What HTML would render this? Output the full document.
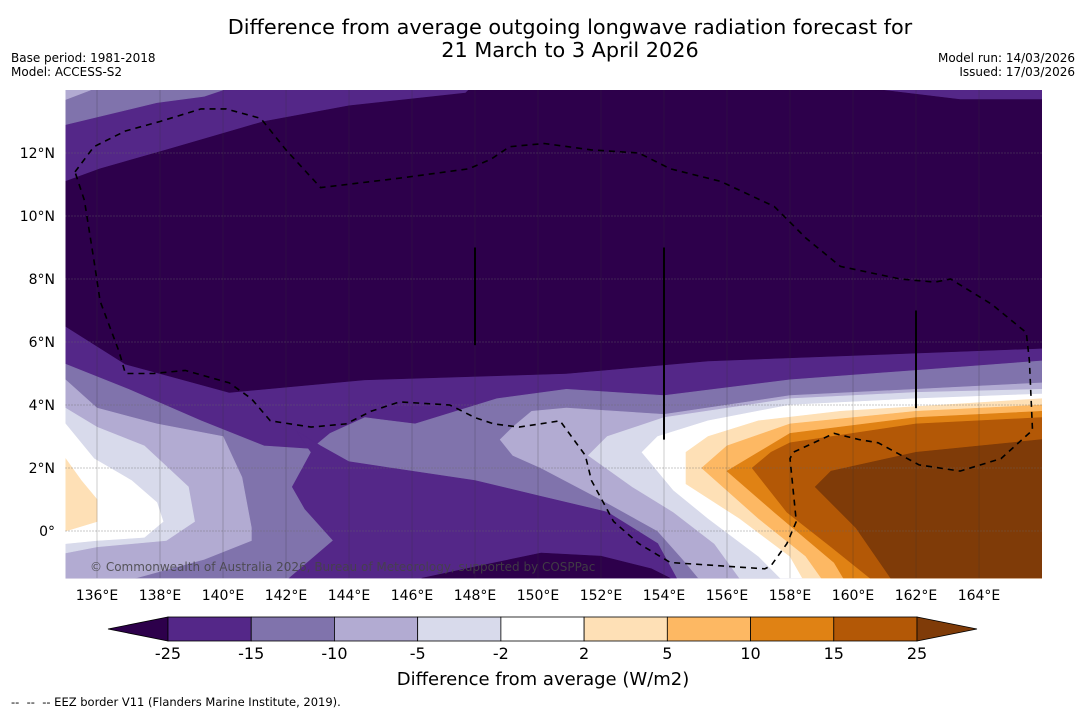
<!DOCTYPE html>
<html><head><meta charset="utf-8">
<style>
html,body{margin:0;padding:0;background:#fff;}
body{width:1085px;height:713px;overflow:hidden;font-family:"Liberation Sans","DejaVu Sans",sans-serif;}
svg text{font-family:"DejaVu Sans","Liberation Sans",sans-serif;}
</style></head>
<body>
<svg id="chart" width="1085" height="713" xmlns="http://www.w3.org/2000/svg">
<text x="570" y="34" font-size="20.8" text-anchor="middle" fill="#000">Difference from average outgoing longwave radiation forecast for</text>
<text x="570" y="57" font-size="20.8" text-anchor="middle" fill="#000">21 March to 3 April 2026</text>
<text x="11" y="62" font-size="12">Base period: 1981-2018</text>
<text x="11" y="76" font-size="12">Model: ACCESS-S2</text>
<text x="1075" y="62" font-size="12" text-anchor="end">Model run: 14/03/2026</text>
<text x="1075" y="76" font-size="12" text-anchor="end">Issued: 17/03/2026</text>
<g id="map"></g>
<g id="axes"></g>
<g id="cbar"></g>
<text x="543" y="685" font-size="18" text-anchor="middle">Difference from average (W/m2)</text>
<text x="11" y="706" font-size="11.5" xml:space="preserve">--  --  -- EEZ border V11 (Flanders Marine Institute, 2019).</text>
</svg>
<script>
const levelLabels = ["-25","-15","-10","-5","-2","2","5","10","15","25"];
const levelColors = ["#2d004b","#542788","#8073ac","#b2abd2","#d8daeb","#ffffff","#fee0b6","#fdb863","#e08214","#b35806","#7f3b08"];
const lonTicks = [136,138,140,142,144,146,148,150,152,154,156,158,160,162,164];
const latTicks = [0,2,4,6,8,10,12];
const lonMin=135, lonMax=166, latMin=-1.5, latMax=14.0;

const darkTop = [[135,11.1],[136.1,11.5],[138.2,12.1],[141.3,13.0],[144.0,13.5],[147.7,13.9],[147.8,14.0],[160.9,14.0],[163.4,13.7],[166,13.7],[166,5.8],[155.4,5.4],[150.9,5.0],[144.5,4.8],[140.2,4.4],[136.9,5.3],[135,6.5]];
const band15 = [[135,5.3],[137.0,4.5],[139.3,3.5],[141.3,2.7],[142.8,2.6],[143.4,3.1],[144.5,3.6],[146.1,3.4],[148.7,4.2],[150.9,4.5],[154.0,4.3],[158.0,4.8],[162.0,5.1],[166,5.4],[166,-1.5],[135,-1.5]];
const cornerTL15 = [[135,12.9],[137.9,13.6],[139.4,13.8],[140.0,14.0],[135,14]];
const cornerTL10 = [[135,14],[135,13.7],[135.8,14.0]];
const blob25a = [[142.3,3.2],[142.8,2.5],[142.2,1.4],[142.6,0.7],[143.5,-0.3],[142.1,-1.5],[154.4,-1.5],[153.8,-0.4],[152.2,0.6],[150.1,1.1],[148.0,1.6],[144.0,2.2],[143.1,2.7]];
const blobDark = [[146.3,-1.5],[148.2,-1.1],[150.1,-0.7],[152.0,-0.8],[153.6,-1.2],[154.2,-1.5]];
const left10 = [[135,4.8],[136.0,3.9],[137.9,3.4],[140.0,3.0],[140.6,1.7],[140.9,0.1],[140.9,-0.3],[139.4,-0.9],[137.2,-1.5],[135,-1.5]];
const left5 = [[135,3.9],[136.0,3.3],[137.5,2.7],[138.9,1.4],[139.1,0.3],[138.2,-0.3],[136.0,-0.5],[135,-0.7]];
const left2 = [[135,3.4],[135.9,2.3],[137.1,1.6],[137.9,0.9],[138.1,0.3],[137.5,-0.2],[136.0,-0.3],[135,-0.4]];
const leftP2 = [[135,2.3],[135.5,1.6],[136.0,1.0],[136.0,0.3],[135,0.0]];
const right10 = [[148.8,2.9],[149.2,3.3],[149.8,3.8],[150.9,3.9],[154.0,3.7],[158.0,4.3],[162.0,4.5],[166,4.7],[166,-1.5],[155.1,-1.5],[154.6,-0.9],[153.8,0.0],[152.0,1.0],[150.1,2.0],[149.2,2.4]];
const right5 = [[151.6,2.4],[152.2,3.0],[154.0,3.6],[158.0,4.2],[162.0,4.4],[166,4.5],[166,-1.5],[156.4,-1.5],[155.6,-0.4],[154.3,0.6],[153.0,1.4]];
const right2 = [[153.3,2.5],[153.8,3.0],[155.4,3.5],[158.0,4.0],[162.0,4.2],[166,4.35],[166,-1.5],[157.7,-1.5],[157.0,-0.8],[155.4,0.4],[154.3,1.3]];
const rightP2 = [[154.7,2.5],[155.4,3.0],[157.0,3.5],[159.6,3.8],[166,4.2],[166,-1.5],[158.4,-1.5],[158.0,-0.8],[156.4,0.4],[154.7,1.5]];
const rightP5 = [[155.2,2.0],[156.0,2.7],[158.0,3.4],[162.0,3.8],[166,4.0],[166,-1.5],[159.0,-1.5],[158.5,-0.8],[157.0,0.4]];
const rightP10 = [[156.0,1.9],[157.0,2.5],[158.0,3.1],[162.0,3.6],[166,3.8],[166,-1.5],[159.7,-1.5],[159.4,-1.0],[157.5,0.6]];
const rightP15 = [[156.8,2.0],[157.4,2.5],[158.0,2.8],[162.0,3.4],[166,3.6],[166,-1.5],[160.55,-1.5],[159.3,-0.5],[157.9,0.6]];
const rightP25 = [[158.8,1.4],[159.3,1.9],[162.0,2.5],[166,2.9],[166,-1.5],[161.2,-1.5],[160.1,0.1]];
const regionColorIdx = [0,2,2,3,1,0,3,4,5,6,3,4,5,6,7,8,9,10];
const regions = [darkTop,band15,cornerTL15,cornerTL10,blob25a,blobDark,left10,left5,left2,leftP2,right10,right5,right2,rightP2,rightP5,rightP10,rightP15,rightP25];
const eez = [[135.3,11.4],[135.9,12.2],[136.9,12.7],[138.0,13.0],[139.3,13.4],[140.1,13.4],[141.2,13.1],[142.0,12.1],[143.1,10.9],[145.6,11.2],[147.8,11.5],[148.5,11.8],[149.1,12.2],[150.2,12.3],[151.7,12.1],[153.2,12.0],[154.2,11.5],[155.8,11.1],[157.5,10.3],[158.5,9.3],[159.6,8.4],[161.5,8.0],[162.6,7.9],[163.1,8.0],[164.4,7.2],[165.5,6.3],[165.6,5.4],[165.7,3.2],[164.7,2.3],[163.4,1.9],[162.1,2.1],[160.8,2.8],[160.2,2.9],[159.4,3.1],[158.1,2.5],[158.0,2.3],[158.2,0.3],[157.9,-0.4],[157.4,-1.1],[157.2,-1.2],[154.2,-1.0],[153.2,-0.4],[152.4,0.3],[151.7,1.6],[151.5,2.4],[150.7,3.5],[149.4,3.3],[148.6,3.4],[148.0,3.6],[147.2,4.0],[145.6,4.1],[144.7,3.8],[143.9,3.4],[142.8,3.3],[141.5,3.5],[140.9,4.2],[140.2,4.7],[138.8,5.1],[137.8,5.0],[136.9,5.0],[136.7,5.7],[136.1,7.3],[135.9,8.6],[135.6,10.5],[135.3,11.4]];
const vLines = [[148,9.0,5.9],[154,9.0,2.9],[162,7.0,3.9]];

const NS="http://www.w3.org/2000/svg";
const X0=65.5, Y0=531, S=31.5;
function xs(lon){return X0+(lon-135)*S;}
function ys(lat){return Y0-lat*S;}
function mk(tag,attrs,parent){const e=document.createElementNS(NS,tag);for(const k in attrs)e.setAttribute(k,attrs[k]);parent.appendChild(e);return e;}
const map=document.getElementById('map');
const mx=xs(lonMin), my=ys(latMax), mw=xs(lonMax)-xs(lonMin), mh=ys(latMin)-ys(latMax);
mk('clipPath',{id:'clip'},map);
mk('rect',{x:mx,y:my,width:mw,height:mh},map.lastChild);
const g=mk('g',{'clip-path':'url(#clip)'},map);
const bg=mk('rect',{x:mx,y:my,width:mw,height:mh,fill:levelColors[1]},g);


regions.forEach((poly,i)=>{
  const p=mk('polygon',{points:poly.map(q=>xs(q[0]).toFixed(1)+','+ys(q[1]).toFixed(1)).join(' '),fill:levelColors[regionColorIdx[i]],stroke:levelColors[regionColorIdx[i]],'stroke-width':0.6},g);
  
  
});
lonTicks.forEach(l=>{
  const ln=mk('line',{x1:xs(l),x2:xs(l),y1:my,y2:my+mh,stroke:'#333','stroke-opacity':0.3,'stroke-width':0.8},g);
  
  
});
latTicks.forEach(l=>{
  const ln=mk('line',{x1:mx,x2:mx+mw,y1:ys(l),y2:ys(l),stroke:'#666','stroke-opacity':0.7,'stroke-width':1,'stroke-dasharray':'1,2'},g);
  
  
});
const ez=mk('polyline',{points:eez.map(q=>xs(q[0]).toFixed(1)+','+ys(q[1]).toFixed(1)).join(' '),fill:'none',stroke:'#000','stroke-width':1.6,'stroke-dasharray':'6,5'},g);


vLines.forEach(v=>{
  const ln=mk('line',{x1:xs(v[0]),x2:xs(v[0]),y1:ys(v[1]),y2:ys(v[2]),stroke:'#000','stroke-width':2},g);
  
  
});
const cp=mk('text',{x:90,y:571,'font-size':12,fill:'#444','fill-opacity':0.85},g);
cp.textContent='© Commonwealth of Australia 2026, Bureau of Meteorology, supported by COSPPac';



const ax=document.getElementById('axes');
lonTicks.forEach(l=>{
  const t=mk('text',{x:xs(l),y:600,'font-size':14,'text-anchor':'middle'},ax);
  t.textContent=l+'°E';
  
  
});
latTicks.forEach(l=>{
  const t=mk('text',{x:55,y:ys(l)+5,'font-size':14,'text-anchor':'end'},ax);
  t.textContent=l===0?'0°':l+'°N';
  
  
});

const cb=document.getElementById('cbar');
const cbL=168, cbR=917, cbT=617, cbB=641, nb=levelLabels.length-1, bw=(cbR-cbL)/nb;
const lt=mk('polygon',{points:`${cbL},${cbT} ${cbL},${cbB} 108,${(cbT+cbB)/2}`,fill:levelColors[0],stroke:'#000','stroke-width':0.8},cb);


for(let i=0;i<nb;i++){
  const r=mk('rect',{x:cbL+i*bw,y:cbT,width:bw,height:cbB-cbT,fill:levelColors[i+1],stroke:'#000','stroke-width':0.8},cb);
  
  
}
const rt=mk('polygon',{points:`${cbR},${cbT} ${cbR},${cbB} 977,${(cbT+cbB)/2}`,fill:levelColors[10],stroke:'#000','stroke-width':0.8},cb);


levelLabels.forEach((s,i)=>{
  const t=mk('text',{x:cbL+i*bw,y:659,'font-size':16,'text-anchor':'middle'},cb);
  t.textContent=s;
  
  
});
</script>
</body></html>
